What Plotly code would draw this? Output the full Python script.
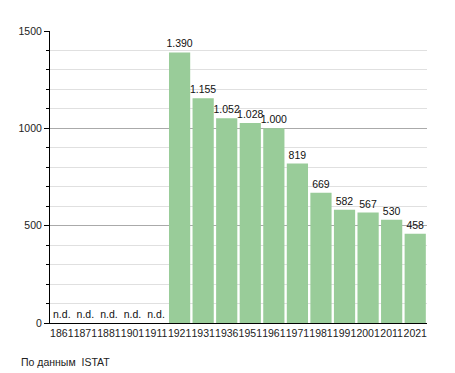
import plotly.graph_objects as go

years = ["1861", "1871", "1881", "1901", "1911", "1921", "1931", "1936", "1951",
         "1961", "1971", "1981", "1991", "2001", "2011", "2021"]
population = [None, None, None, None, None, 1390, 1155, 1052, 1028, 1000, 819,
              669, 582, 567, 530, 458]


def fmt(v):
    if v is None:
        return "n.d."
    return f"{v:,}".replace(",", ".")


labels = [fmt(v) for v in population]
heights = [0 if v is None else v for v in population]

PW, PH = 377, 292
FS = 10.5

fig = go.Figure(go.Bar(
    x=years, y=heights, text=labels, textposition="outside",
    constraintext="none", cliponaxis=False,
    textfont=dict(family="Liberation Sans, Arial", size=FS, color="#111"),
    marker=dict(color="#99cc99", line=dict(width=0)),
    hoverinfo="skip",
))

fig.update_layout(
    width=447, height=365,
    margin=dict(l=42, r=28, t=23, b=50, autoexpand=False),
    paper_bgcolor="white", plot_bgcolor="white",
    bargap=0.1, showlegend=False,
    font=dict(family="Liberation Sans, Arial", size=FS, color="#222"),
    xaxis=dict(type="category", showline=True, linecolor="black", linewidth=1,
               ticks="", tickangle=0, automargin=False, tickfont=dict(size=FS),
               showgrid=False, fixedrange=True),
    yaxis=dict(range=[0, 1500], tickvals=[0, 500, 1000, 1500], showline=True,
               automargin=False,
               linecolor="black", linewidth=1, ticks="outside", ticklen=5,
               tickcolor="black", gridcolor="#aaaaaa", gridwidth=1,
               zeroline=False, tickfont=dict(size=FS),
               minor=dict(dtick=100, ticks="outside", ticklen=3, tickcolor="black",
                          showgrid=True, gridcolor="#e0e0e0", gridwidth=1)),
    annotations=[dict(text="По данным  ISTAT", xref="paper", yref="paper",
                      x=-31 / PW, y=-39 / PH, xanchor="left", yanchor="middle",
                      showarrow=False, font=dict(size=FS, color="#222"))],
)

fig.write_html("out.html")
